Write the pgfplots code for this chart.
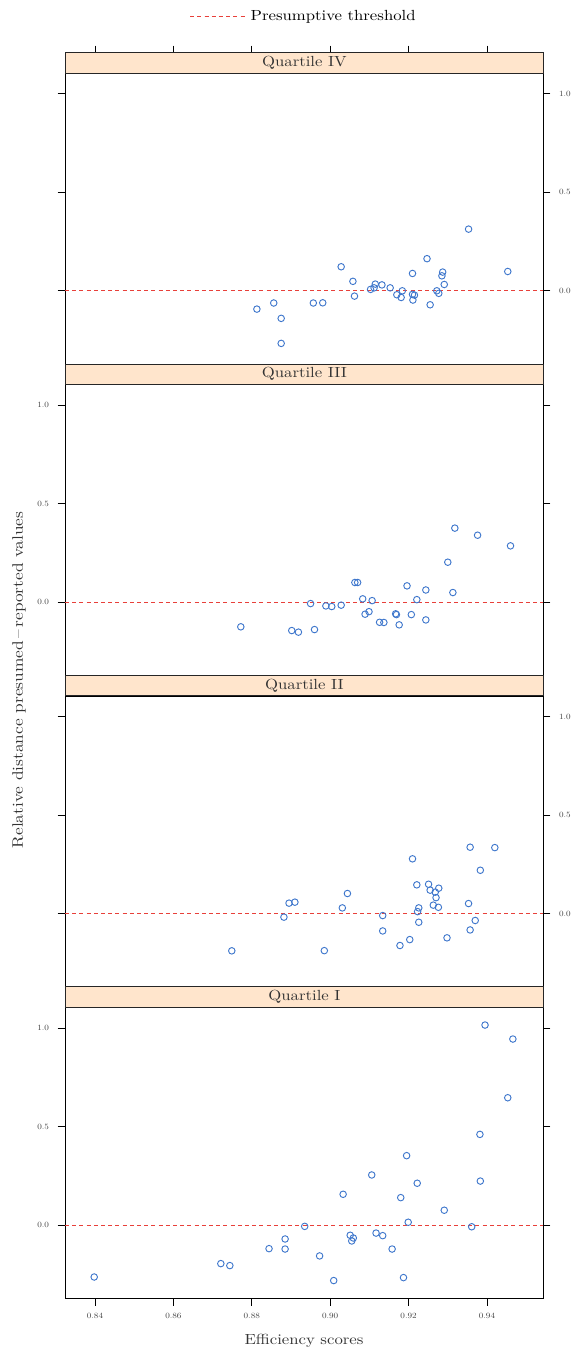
\documentclass[border=0pt]{standalone}
\usepackage{fontspec}
\setmainfont{lmroman10-regular.otf}[FakeStretch=1.14]
\usepackage{pgfplots}
\pgfplotsset{compat=1.18}
\definecolor{ptblue}{HTML}{3F77CC}
\definecolor{thr}{HTML}{E8403A}
\definecolor{stripc}{HTML}{FFE5CC}
\newcommand{\lblfont}{\fontsize{11}{13}\selectfont}
\pgfplotsset{
  panel/.style={
    scale only axis, width=358.5pt, height=218.25pt, anchor=south west,
    xmin=0.83235, xmax=0.95429, ymin=-0.3736, ymax=1.1036,
    ytick={0,0.5,1}, yticklabels={0.0,0.5,1.0}, ytick pos=both,
    tick align=outside, major tick length=5.5pt,
    tick style={black, line width=0.6pt},
    axis line style={black, line width=0.6pt},
    tick label style={font=\fontsize{6}{7}\selectfont, text=black!75},
    /pgf/number format/assume math mode=true,
    yticklabel shift=3pt, xticklabel shift=2pt,
  },
  thrline/.style={color=thr, dash pattern=on 3pt off 2.4pt, line width=0.7pt},
  pts/.style={only marks, mark=o, mark size=2.45pt, color=ptblue, mark options={line width=0.7pt, color=ptblue}},
}
\begin{document}
\begin{tikzpicture}
\useasboundingbox (0,0) rectangle (428.25pt,1017.75pt);
% Quartile I
\begin{axis}[panel, at={(48.75pt,43.8pt)},
  xtick={0.84,0.86,0.88,0.90,0.92,0.94}, xticklabels={0.84,0.86,0.88,0.90,0.92,0.94},
  xtick pos=left, yticklabel pos=left]
\addplot[thrline] coordinates {(0.83235,0) (0.95429,0)};
\addplot[pts] table {
0.8398 -0.264
0.8721 -0.196
0.8744 -0.206
0.8844 -0.120
0.8885 -0.122
0.8885 -0.071
0.8935 -0.007
0.8973 -0.157
0.9009 -0.282
0.9033 0.156
0.9051 -0.052
0.9059 -0.066
0.9055 -0.081
0.9106 0.254
0.9117 -0.041
0.9134 -0.054
0.9158 -0.122
0.9180 0.139
0.9187 -0.267
0.9195 0.352
0.9199 0.014
0.9222 0.212
0.9291 0.075
0.9361 -0.009
0.9382 0.460
0.9383 0.223
0.9395 1.015
0.9453 0.646
0.9466 0.944
};
\end{axis}
% Quartile II
\begin{axis}[panel, at={(48.75pt,277.35pt)}, xtick=\empty, yticklabel pos=right]
\addplot[thrline] coordinates {(0.83235,0) (0.95429,0)};
\addplot[pts] table {
0.8749 -0.189
0.8882 -0.018
0.8895 0.053
0.8910 0.058
0.8985 -0.188
0.9031 0.029
0.9044 0.102
0.9134 -0.010
0.9134 -0.088
0.9178 -0.162
0.9203 -0.132
0.9210 0.278
0.9221 0.146
0.9226 0.029
0.9223 0.010
0.9226 -0.044
0.9251 0.149
0.9255 0.119
0.9268 0.109
0.9277 0.129
0.9270 0.081
0.9263 0.043
0.9276 0.032
0.9298 -0.123
0.9353 0.051
0.9357 0.337
0.9357 -0.083
0.9370 -0.035
0.9383 0.220
0.9420 0.335
};
\end{axis}
% Quartile III
\begin{axis}[panel, at={(48.75pt,510.9pt)}, xtick=\empty, yticklabel pos=left]
\addplot[thrline] coordinates {(0.83235,0) (0.95429,0)};
\addplot[pts] table {
0.8772 -0.125
0.8902 -0.144
0.8919 -0.152
0.8960 -0.139
0.8950 -0.007
0.8989 -0.019
0.9004 -0.022
0.9028 -0.015
0.9063 0.100
0.9070 0.100
0.9083 0.017
0.9107 0.008
0.9099 -0.048
0.9089 -0.061
0.9126 -0.102
0.9137 -0.103
0.9167 -0.059
0.9169 -0.063
0.9176 -0.115
0.9196 0.083
0.9207 -0.063
0.9221 0.013
0.9244 0.062
0.9244 -0.090
0.9300 0.203
0.9313 0.049
0.9318 0.376
0.9376 0.340
0.9460 0.286
};
\end{axis}
% Quartile IV
\begin{axis}[panel, at={(48.75pt,744.45pt)}, xtick=\empty, yticklabel pos=right,
  legend style={at={(axis description cs:0.5,1.197)}, anchor=center, draw=none, fill=none, font=\lblfont, inner sep=0pt},
  legend image code/.code={\draw[color=thr, dash pattern=on 3pt off 2.4pt, line width=0.7pt] (0pt,0pt) -- (33pt,0pt); \path (0pt,0pt) -- (43pt,0pt);}]
\addplot[thrline] coordinates {(0.83235,0) (0.95429,0)};
\addlegendentry{Presumptive threshold}
\addplot[pts, forget plot] table {
0.8813 -0.093
0.8856 -0.062
0.8875 -0.140
0.8875 -0.267
0.8957 -0.062
0.8981 -0.061
0.9028 0.122
0.9058 0.048
0.9062 -0.027
0.9103 0.007
0.9112 0.015
0.9115 0.034
0.9132 0.030
0.9153 0.015
0.9170 -0.020
0.9181 -0.034
0.9184 0.000
0.9210 0.088
0.9210 -0.018
0.9215 -0.022
0.9211 -0.047
0.9247 0.163
0.9255 -0.071
0.9272 0.000
0.9277 -0.013
0.9287 0.095
0.9285 0.076
0.9291 0.032
0.9353 0.313
0.9453 0.098
};
\end{axis}
% top tick marks above the top strip
\begin{axis}[scale only axis, width=358.5pt, height=15.3pt, anchor=south west, at={(48.75pt,962.7pt)},
  xmin=0.83235, xmax=0.95429, ymin=0, ymax=1, ytick=\empty,
  xtick={0.84,0.86,0.88,0.90,0.92,0.94}, xticklabels={}, xtick pos=right,
  tick align=outside, major tick length=5.5pt, tick style={black, line width=0.6pt},
  axis line style={draw=none}]
\end{axis}
% strips
\foreach \yy/\lab in {262.05pt/Quartile I, 495.6pt/Quartile II, 729.15pt/Quartile III, 962.7pt/Quartile IV}{
  \node[draw=black!85, line width=0.6pt, fill=stripc, minimum width=358.5pt, minimum height=15.3pt,
        inner sep=0pt, anchor=south west, font=\lblfont, text=black!80] at (48.75pt,\yy) {\lab};
}
\node[rotate=90, font=\fontsize{11.4}{13}\selectfont, text=black!80] at (14.25pt,507.75pt) {Relative distance presumed\,--\,reported values};
\node[font=\lblfont, text=black!80] at (228pt,12pt) {Efficiency scores};
\end{tikzpicture}
\end{document}
